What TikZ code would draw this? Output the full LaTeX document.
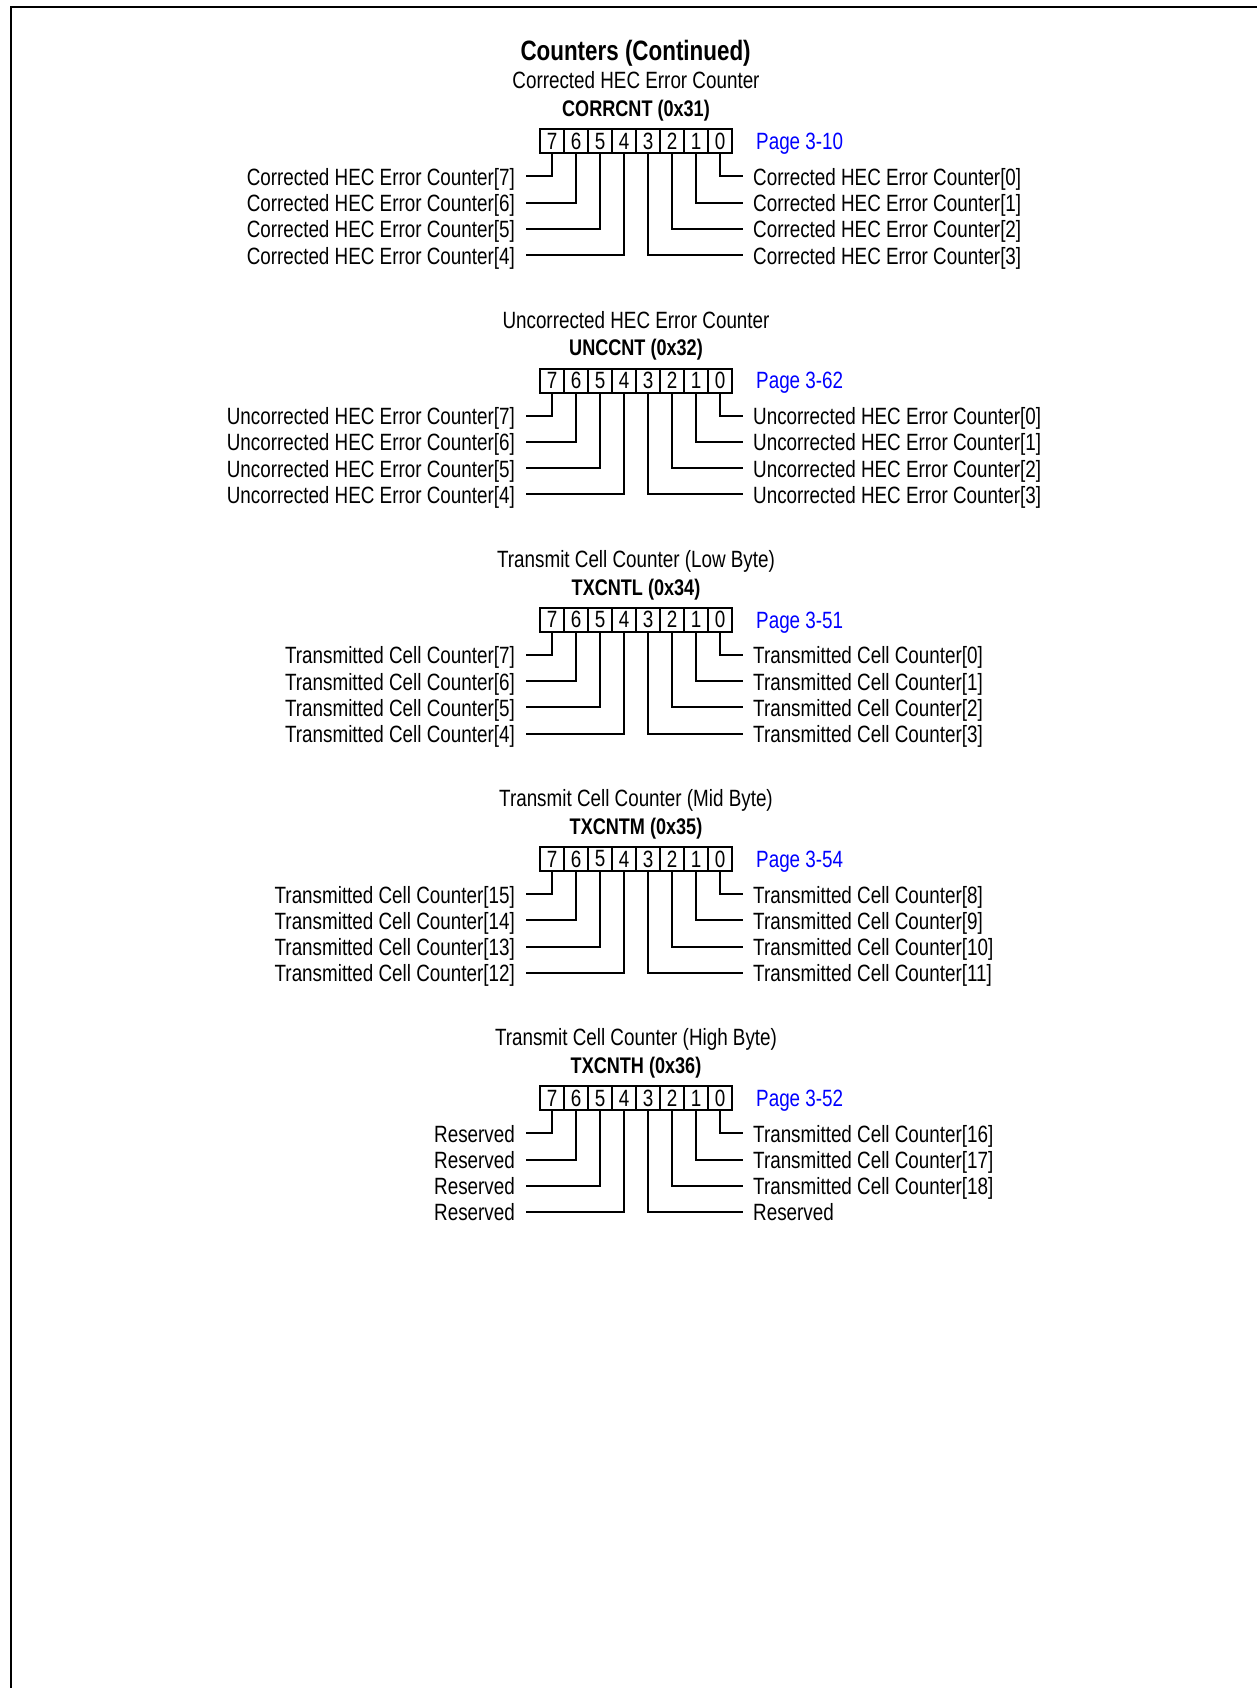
\documentclass[tikz,border=0pt]{standalone}
\usepackage{fontspec}
\setmainfont[FakeStretch=0.8]{Liberation Sans}
\definecolor{linkblue}{RGB}{0,0,255}
\newcommand\fnorm{\fontsize{23.55pt}{28pt}\selectfont}
\newcommand\fsubb{\fontsize{22.6pt}{27pt}\selectfont\bfseries}
\newcommand\ftitle{\fontsize{28pt}{33pt}\selectfont\bfseries}
\tikzset{
  ln/.style={line width=2pt},
  cell/.style={draw, line width=2pt, minimum width=24pt, minimum height=24pt, inner sep=0pt, font=\fnorm},
  lblL/.style={anchor=east, inner xsep=11pt, inner ysep=0pt, text height=18pt, text depth=0pt, font=\fnorm},
  lblR/.style={anchor=west, inner xsep=10pt, inner ysep=0pt, text height=18pt, text depth=0pt, font=\fnorm},
  subttl/.style={anchor=base, inner sep=0pt, font=\fnorm},
  regname/.style={anchor=base, inner sep=0pt, font=\fsubb},
  pagelink/.style={anchor=base west, inner sep=0pt, font=\fnorm, text=linkblue},
  framestyle/.style={line width=2pt},
}
\begin{document}
\begin{tikzpicture}[x=1pt,y=-1pt]
\useasboundingbox (0,0) rectangle (1256,1688);
\draw[framestyle] (11.2,1690) -- (11.2,6.7) -- (1258,6.7);
\node[anchor=base, inner sep=0pt, font=\ftitle] (title) at (635.6,60.5) {Counters (Continued)};
\foreach \s/\subt/\regn/\pgt in {
  0/{Corrected HEC Error Counter}/{CORRCNT (0x31)}/{Page 3-10},
  1/{Uncorrected HEC Error Counter}/{UNCCNT (0x32)}/{Page 3-62},
  2/{Transmit Cell Counter (Low Byte)}/{TXCNTL (0x34)}/{Page 3-51},
  3/{Transmit Cell Counter (Mid Byte)}/{TXCNTM (0x35)}/{Page 3-54},
  4/{Transmit Cell Counter (High Byte)}/{TXCNTH (0x36)}/{Page 3-52}} {
  \pgfmathsetmacro\D{239.2*\s}
  \node[subttl] (sub\s) at (636,{89+\D}) {\subt};
  \node[regname] (reg\s) at (636,{116.7+\D}) {\regn};
  \foreach \i in {0,...,7} {
    \node[cell] (c\s-\i) at ({552+24*(7-\i)},{141.3+\D}) {\i};
  }
  \node[pagelink] (pg\s) at (756,{149.6+\D}) {\pgt};
}
\foreach \s/\r/\lt/\rt in {
  0/0/{Corrected HEC Error Counter[7]}/{Corrected HEC Error Counter[0]},
  0/1/{Corrected HEC Error Counter[6]}/{Corrected HEC Error Counter[1]},
  0/2/{Corrected HEC Error Counter[5]}/{Corrected HEC Error Counter[2]},
  0/3/{Corrected HEC Error Counter[4]}/{Corrected HEC Error Counter[3]},
  1/0/{Uncorrected HEC Error Counter[7]}/{Uncorrected HEC Error Counter[0]},
  1/1/{Uncorrected HEC Error Counter[6]}/{Uncorrected HEC Error Counter[1]},
  1/2/{Uncorrected HEC Error Counter[5]}/{Uncorrected HEC Error Counter[2]},
  1/3/{Uncorrected HEC Error Counter[4]}/{Uncorrected HEC Error Counter[3]},
  2/0/{Transmitted Cell Counter[7]}/{Transmitted Cell Counter[0]},
  2/1/{Transmitted Cell Counter[6]}/{Transmitted Cell Counter[1]},
  2/2/{Transmitted Cell Counter[5]}/{Transmitted Cell Counter[2]},
  2/3/{Transmitted Cell Counter[4]}/{Transmitted Cell Counter[3]},
  3/0/{Transmitted Cell Counter[15]}/{Transmitted Cell Counter[8]},
  3/1/{Transmitted Cell Counter[14]}/{Transmitted Cell Counter[9]},
  3/2/{Transmitted Cell Counter[13]}/{Transmitted Cell Counter[10]},
  3/3/{Transmitted Cell Counter[12]}/{Transmitted Cell Counter[11]},
  4/0/{Reserved}/{Transmitted Cell Counter[16]},
  4/1/{Reserved}/{Transmitted Cell Counter[17]},
  4/2/{Reserved}/{Transmitted Cell Counter[18]},
  4/3/{Reserved}/{Reserved}} {
  \pgfmathsetmacro\Y{176.5+26.2*\r+239.2*\s}
  \pgfmathtruncatemacro\bl{7-\r}
  \node[lblL] (L\s-\r) at (526,\Y) {\lt};
  \node[lblR] (R\s-\r) at (743,\Y) {\rt};
  \draw[ln] (c\s-\bl.south) |- (L\s-\r.east);
  \draw[ln] (c\s-\r.south) |- (R\s-\r.west);
}
\end{tikzpicture}
\end{document}
